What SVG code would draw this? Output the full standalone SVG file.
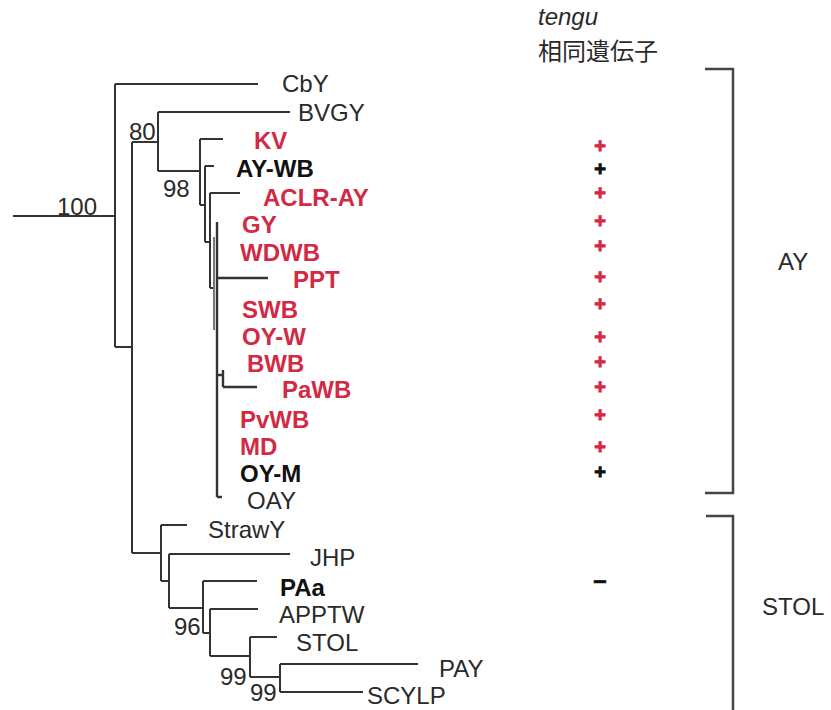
<svg xmlns="http://www.w3.org/2000/svg" width="831" height="710" viewBox="0 0 831 710">
<style>
text{font-family:"Liberation Sans",Arial,"Noto Sans CJK JP",sans-serif;font-size:24px;fill:#2a2a2a}
.b{font-weight:bold;fill:#111}
.r{font-weight:bold;fill:#d22a45}
.pl{font-weight:bold;text-anchor:middle;font-size:20px;stroke-width:0.9px}
.pl.r{stroke:#d22a45}
.pl.b{stroke:#111}
.it{font-style:italic}
.br{fill:none;stroke:#444;stroke-width:2.5}
#tree path{fill:none;stroke:#333;stroke-width:2}
</style>
<rect width="831" height="710" fill="#fff"/>
<g id="tree">
<path d="M13,216H115M115,84V347M115,84H258M115,347H132M132,142V553"/>
<path d="M132,142H158M158,112V171M158,112H290M158,171H200"/>
<path d="M200,139V205M200,139H223M200,205H205M205,166V242M205,166H214M205,242H210"/>
<path d="M210,193V288M210,193H240M210,288H214"/>
<path d="M214,237V330" style="stroke:#777"/>
<path d="M217,222V497M217,497H222M217,278H268M217,375H223M223,370V387M223,387H257" style="stroke-width:2.4"/>
<path d="M132,553H161M161,525V581M161,525H187M161,581H169M169,554V608M169,554H290M169,608H203"/>
<path d="M203,581V633M203,581H257M203,633H210M210,609V656M210,609H258M210,656H250"/>
<path d="M250,637V677M250,637H277M250,677H280M280,664V692M280,664H418M280,692H363"/>
</g>
<g id="support">
<text x="57" y="215">100</text>
<text x="129" y="140">80</text>
<text x="163" y="197">98</text>
<text x="174" y="635">96</text>
<text x="220" y="685">99</text>
<text x="250" y="701">99</text>
</g>
<g id="leaves">
<g id="n-CbY"><text x="282" y="92">CbY</text></g>
<g id="n-BVGY"><text x="298" y="121">BVGY</text></g>
<g id="n-KV"><text class="r" x="254" y="149">KV</text></g>
<g id="n-AYWB"><text class="b" x="236" y="177">AY-WB</text></g>
<g id="n-ACLR"><text class="r" x="263" y="206">ACLR-AY</text></g>
<g id="n-GY"><text class="r" x="242" y="233">GY</text></g>
<g id="n-WDWB"><text class="r" x="240" y="261">WDWB</text></g>
<g id="n-PPT"><text class="r" x="293" y="288">PPT</text></g>
<g id="n-SWB"><text class="r" x="242" y="318">SWB</text></g>
<g id="n-OYW"><text class="r" x="242" y="345">OY-W</text></g>
<g id="n-BWB"><text class="r" x="247" y="372">BWB</text></g>
<g id="n-PaWB"><text class="r" x="282" y="398">PaWB</text></g>
<g id="n-PvWB"><text class="r" x="240" y="428">PvWB</text></g>
<g id="n-MD"><text class="r" x="240" y="455">MD</text></g>
<g id="n-OYM"><text class="b" x="240" y="482">OY-M</text></g>
<g id="n-OAY"><text x="247" y="509">OAY</text></g>
<g id="n-StrawY"><text x="208" y="538">StrawY</text></g>
<g id="n-JHP"><text x="310" y="566">JHP</text></g>
<g id="n-PAa"><text class="b" x="280" y="596">PAa</text></g>
<g id="n-APPTW"><text x="279" y="623">APPTW</text></g>
<g id="n-STOL"><text x="296" y="651">STOL</text></g>
<g id="n-PAY"><text x="439" y="677">PAY</text></g>
<g id="n-SCYLP"><text x="367" y="704">SCYLP</text></g>
</g>
<g id="tengu">
<text class="it" x="538" y="25">tengu</text>
<text x="538" y="60">相同遺伝子</text>
<text class="pl r" x="600" y="153">+</text>
<text class="pl b" x="600" y="176">+</text>
<text class="pl r" x="600" y="200">+</text>
<text class="pl r" x="600" y="228">+</text>
<text class="pl r" x="600" y="253">+</text>
<text class="pl r" x="600" y="284">+</text>
<text class="pl r" x="600" y="311">+</text>
<text class="pl r" x="600" y="344">+</text>
<text class="pl r" x="600" y="369">+</text>
<text class="pl r" x="600" y="394">+</text>
<text class="pl r" x="600" y="422">+</text>
<text class="pl r" x="600" y="454">+</text>
<text class="pl b" x="600" y="479">+</text>
<text class="b" x="600" y="588" style="text-anchor:middle;stroke:#111;stroke-width:0.6px">–</text>
</g>
<g id="bracket-AY">
<path class="br" d="M705,69H733V493H705"/>
<text x="778" y="270">AY</text>
</g>
<g id="bracket-STOL">
<path class="br" d="M706,516H733V712"/>
<text x="762" y="615">STOL</text>
</g>
</svg>
